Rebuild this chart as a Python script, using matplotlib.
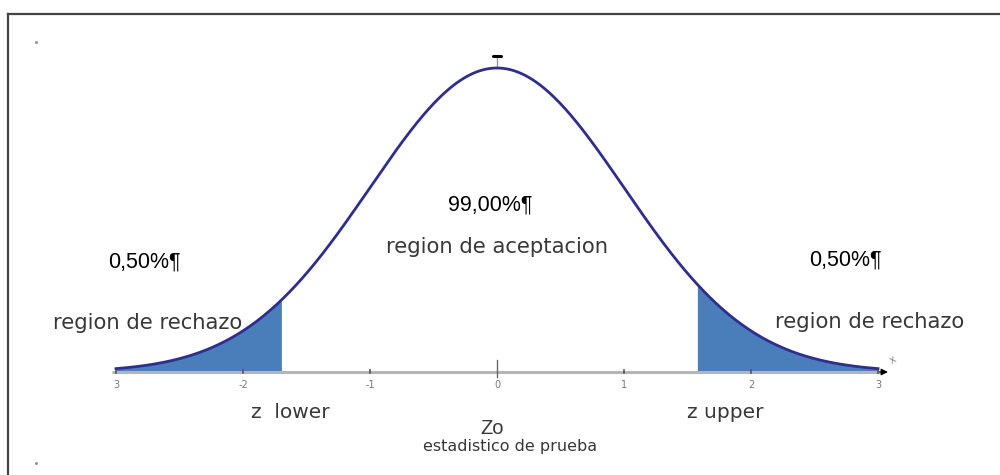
import numpy as np
import matplotlib
matplotlib.use("Agg")
import matplotlib.pyplot as plt
from matplotlib.lines import Line2D

# ---- data ----
mean = 0.0
sd = 1.0
x_min, x_max = -3.0, 3.0
z_lower = -1.69
z_upper = 1.57
tick_values = [-3, -2, -1, 0, 1, 2, 3]
tick_labels = ["3", "-2", "-1", "0", "1", "2", "3"]
pct_left = "0,50%¶"
pct_mid = "99,00%¶"
pct_right = "0,50%¶"
lbl_reject = "region de rechazo"
lbl_accept = "region de aceptacion"
lbl_lower = "z  lower"
lbl_upper = "z upper"
lbl_z0 = "Zo"
lbl_stat = "estadistico de prueba"

W, H = 1000, 475
fig = plt.figure(figsize=(W / 100, H / 100), dpi=100)
ax = fig.add_axes([0, 0, 1, 1])
ax.axis("off")

# pixel mapping: x=-3 -> 116 px, x=3 -> 878 px ; y=0 -> 372 px, peak -> 68 px
sx = (878 - 116) / 6.0
ax.set_xlim(-3 - 116 / sx, -3 + (W - 116) / sx)
sy = (372 - 68) / (1 / np.sqrt(2 * np.pi))
ax.set_ylim((372 - H) / sy, 372 / sy)

def fx(px):
    return px / W

def fy(py):
    return 1 - py / H

xs = np.linspace(x_min, x_max, 600)
pdf = np.exp(-0.5 * ((xs - mean) / sd) ** 2) / (sd * np.sqrt(2 * np.pi))

fill_col = "#4A7EBB"
ax.fill_between(xs, 0, pdf, where=xs <= z_lower + 1e-9, color=fill_col, lw=0)
ax.fill_between(xs, 0, pdf, where=xs >= z_upper - 1e-9, color=fill_col, lw=0)

# axis line
ax.plot([x_min - 0.03, x_max + 0.02], [0, 0], color="#b5b5b5", lw=2.2, zorder=2,
        solid_capstyle="butt")
ax.annotate("", xy=(x_max + 0.1, 0), xytext=(x_max - 0.01, 0),
            arrowprops=dict(arrowstyle="-|>", color="black", lw=0.8,
                            mutation_scale=10), zorder=3)
ax.text(x_max + 0.12, 0.008, "x", fontsize=7.5, color="#888888",
        ha="center", va="bottom", rotation=30)

# curve
ax.plot(xs, pdf, color="#2E2E8C", lw=2.0, zorder=4)

# ticks
for v, lab in zip(tick_values, tick_labels):
    if v == 0:
        ax.plot([v, v], [-0.007, 0.016], color="#666666", lw=1.0, zorder=3)
    else:
        ax.plot([v, v], [-0.001, 0.003], color="#555555", lw=1.2, zorder=3)
    ax.text(v, -0.011, lab, fontsize=7, color="#777777",
            ha="center", va="top")

# peak marker
peak = 1 / (sd * np.sqrt(2 * np.pi))
ax.plot([mean, mean], [peak, peak + 0.015], color="#999999", lw=1.0, zorder=3)
ax.plot([mean - 0.035, mean + 0.035], [peak + 0.016, peak + 0.016],
        color="black", lw=2.2, zorder=3, solid_capstyle="round")

# texts
pct_kw = dict(fontsize=15.5, color="black", family="Liberation Sans",
              ha="center", va="center", transform=fig.transFigure)
ax.text(fx(144), fy(262), pct_left, **pct_kw)
ax.text(fx(490), fy(205), pct_mid, **pct_kw)
ax.text(fx(845), fy(260), pct_right, **pct_kw)

reg_kw = dict(fontsize=15.2, color="#383838", family="DejaVu Sans",
              ha="center", va="center", transform=fig.transFigure)
ax.text(fx(148), fy(323), lbl_reject, **reg_kw)
ax.text(fx(870), fy(322), lbl_reject, **reg_kw)
ax.text(fx(497), fy(247), lbl_accept, **reg_kw)

low_kw = dict(reg_kw, fontsize=14.5)
ax.text(fx(290), fy(412), lbl_lower, **low_kw)
ax.text(fx(725), fy(412), lbl_upper, **low_kw)
ax.text(fx(492), fy(428), lbl_z0, fontsize=14.5, color="#383838",
        family="Liberation Sans", ha="center", va="center",
        transform=fig.transFigure)
ax.text(fx(510), fy(446), lbl_stat, fontsize=11.5, color="#383838",
        family="DejaVu Sans", ha="center", va="center",
        transform=fig.transFigure)

# frame (left and top) and stray dots
fig.add_artist(Line2D([fx(8), fx(8)], [fy(14), fy(475)], color="#444444",
                      lw=1.6, transform=fig.transFigure))
fig.add_artist(Line2D([fx(8), fx(1000)], [fy(14), fy(14)], color="#444444",
                      lw=1.6, transform=fig.transFigure))
fig.add_artist(Line2D([fx(36)], [fy(42)], marker="o", ms=1.2, color="#999999",
                      transform=fig.transFigure))
fig.add_artist(Line2D([fx(36)], [fy(463)], marker="o", ms=1.2, color="#999999",
                      transform=fig.transFigure))

fig.savefig("out.png", dpi=100, facecolor="white")
